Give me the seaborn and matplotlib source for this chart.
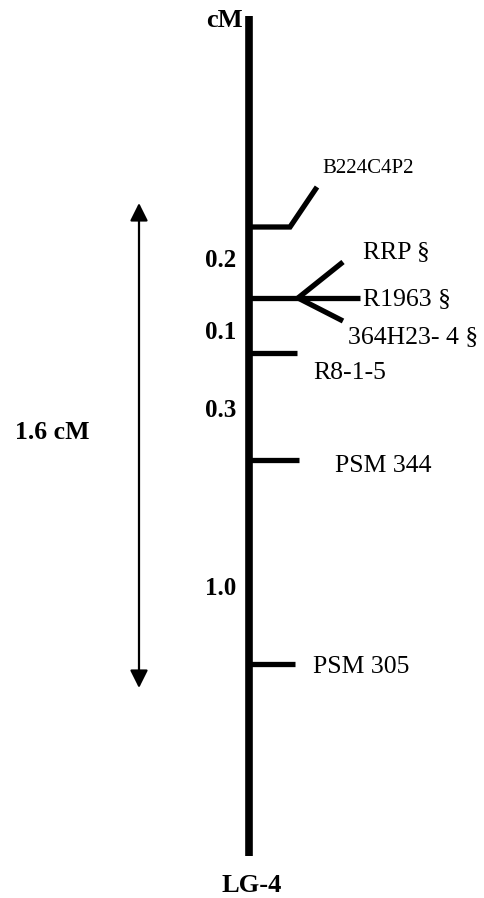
import numpy as np
import pandas as pd
import matplotlib
matplotlib.use('Agg')
import matplotlib.pyplot as plt
import seaborn as sns

# ── data: linkage group LG-4 ────────────────────────────────
group_name   = 'LG-4'
unit_label   = 'cM'
# marker names and their drawn positions along the bar (drawing units from top)
marker_names = ['B224C4P2', 'RRP §', 'R1963 §', '364H23- 4 §', 'R8-1-5', 'PSM 344', 'PSM 305']
marker_pos   = [227, 298, 298, 298, 353, 460, 664]
# genetic distances between neighbouring loci
interval_cm  = [0.2, 0.1, 0.3, 1.0]
interval_lbl = ['0.2', '0.1', '0.3', '1.0']

# ── layout (drawing units = pixels) ─────────────────────────
W, H      = 484, 898
bar_x     = 249
bar_top   = 16
bar_bot   = 856
tick_end  = [290, 360, 360, 360, 297, 299, 295]
label_xy  = [(322, 173), (363, 258), (363, 305), (348, 343),
             (313, 379), (335, 472), (313, 673)]
interval_base = [267, 339, 417, 595]
arrow_x, arrow_top, arrow_bot = 139, 203, 688

sns.set_theme(style='white')
plt.rcParams['font.family'] = ['Liberation Serif', 'DejaVu Serif']
plt.rcParams['text.color'] = 'black'

fig = plt.figure(figsize=(W / 100, H / 100), dpi=100)
ax = fig.add_axes([0, 0, 1, 1])
ax.set_xlim(0, W)
ax.set_ylim(H, 0)
ax.axis('off')

# chromosome bar
bar = pd.DataFrame({'x': [bar_x, bar_x], 'y': [bar_top, bar_bot]})
sns.lineplot(data=bar, x='x', y='y', sort=False, estimator=None,
             color='black', linewidth=5.5, solid_capstyle='butt',
             ax=ax, legend=False)

# marker ticks; B224C4P2 gets a bent leader, the co-segregating trio a fan
rows = []
y0 = marker_pos[0]
rows += [(0, bar_x, y0), (0, tick_end[0], y0), (0, tick_end[0] + 27, y0 - 40)]
yg = marker_pos[1]
fan_x = 298
rows += [(1, bar_x, yg), (1, tick_end[2], yg)]
rows += [(2, fan_x, yg), (2, fan_x + 45, yg - 36)]
rows += [(3, fan_x, yg), (3, fan_x + 45, yg + 23)]
for k in range(4, len(marker_names)):
    rows += [(k, bar_x, marker_pos[k]), (k, tick_end[k], marker_pos[k])]
seg = pd.DataFrame(rows, columns=['seg', 'x', 'y'])
sns.lineplot(data=seg, x='x', y='y', units='seg', sort=False, estimator=None,
             color='black', linewidth=3.8, solid_capstyle='butt',
             solid_joinstyle='miter', ax=ax, legend=False)

# marker labels
for name, (lx, ly) in zip(marker_names, label_xy):
    fs = 15 if name == 'B224C4P2' else 18.5
    ax.text(lx, ly, name, fontsize=fs, ha='left', va='baseline', color='black')

# interval distances
for lbl, by in zip(interval_lbl, interval_base):
    ax.text(236, by, lbl, fontsize=18, fontweight='bold', ha='right',
            va='baseline', color='black')

# total span arrow
ax.annotate('', xy=(arrow_x, arrow_top), xytext=(arrow_x, arrow_bot),
            arrowprops=dict(arrowstyle='<|-|>', color='black', lw=1.6,
                            mutation_scale=27, shrinkA=0, shrinkB=0))
total = sum(interval_cm)
ax.text(52, 439, f'{total:.1f} cM', fontsize=18.5, fontweight='bold',
        ha='center', va='baseline', color='black')

# header and footer
ax.text(243, 27, unit_label, fontsize=19, fontweight='bold', ha='right',
        va='baseline', color='black')
ax.text(252, 892, group_name, fontsize=19, fontweight='bold', ha='center',
        va='baseline', color='black')

fig.savefig('out.png', dpi=100, facecolor='white')
